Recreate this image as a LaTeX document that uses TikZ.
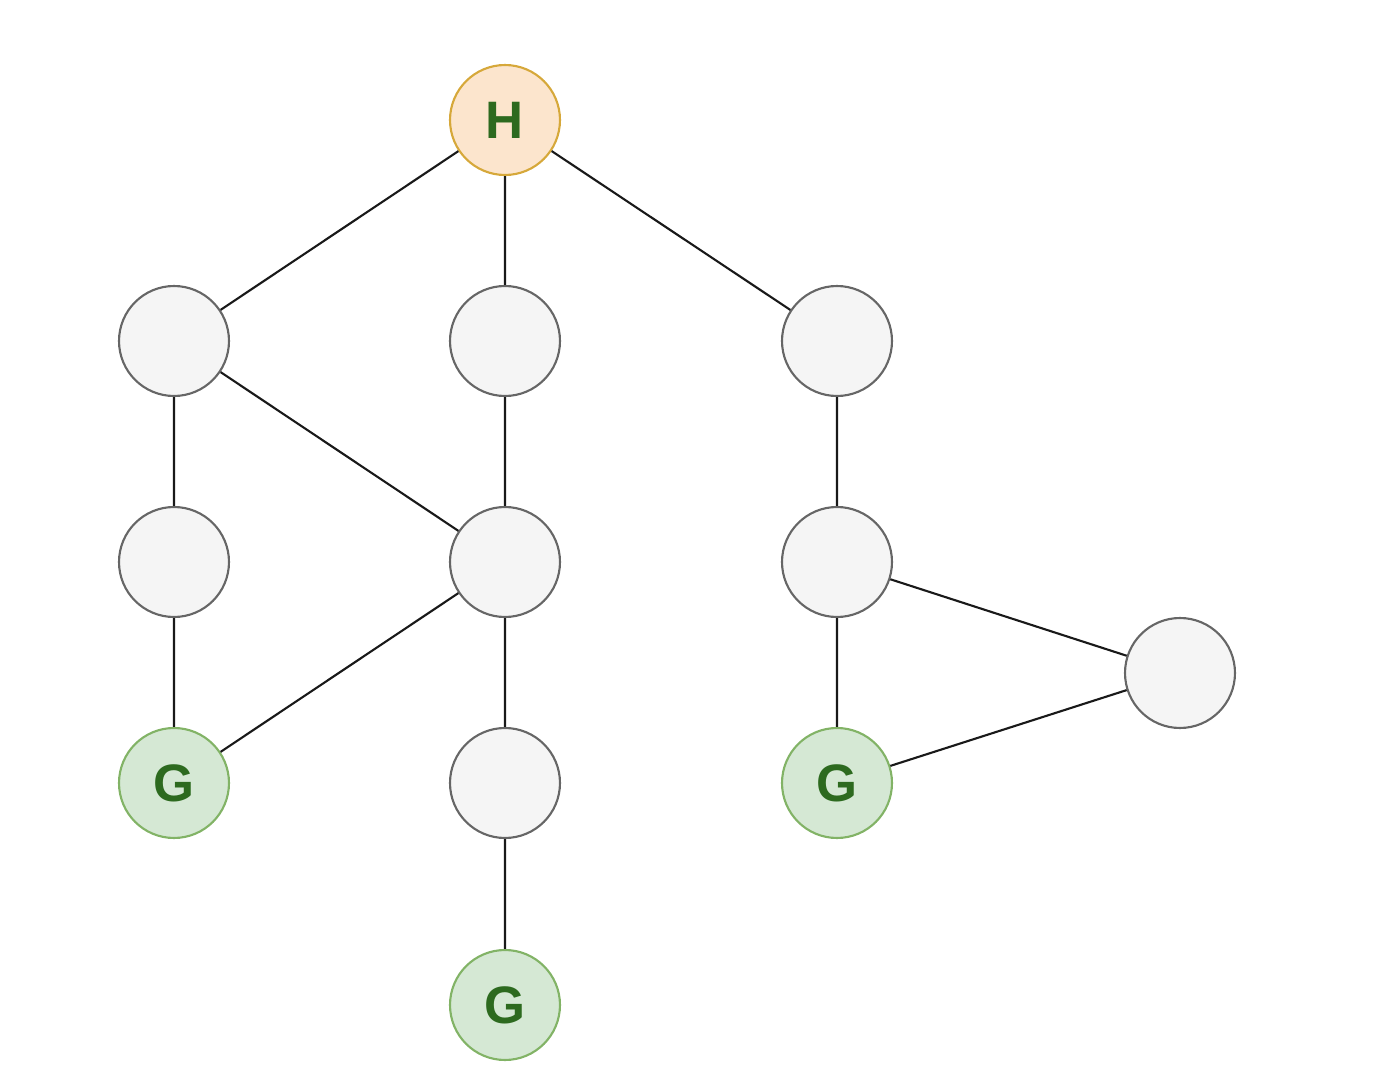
\documentclass[tikz,border=0pt]{standalone}
\usepackage{fontspec}
\setmainfont{Liberation Sans}
\definecolor{grayfill}{HTML}{F5F5F5}
\definecolor{grayline}{HTML}{666666}
\definecolor{greenfill}{HTML}{D5E8D4}
\definecolor{greenline}{HTML}{82B366}
\definecolor{orangefill}{HTML}{FCE5CD}
\definecolor{orangeline}{HTML}{D6A83A}
\definecolor{txtgreen}{HTML}{2D6A1F}
\begin{document}
\begin{tikzpicture}[x=0.02cm,y=-0.02cm,
  base/.style={circle,minimum size=2.2cm,inner sep=0pt,line width=1.2pt,font=\fontsize{30}{30}\selectfont\bfseries,text=txtgreen},
  gnode/.style={base,draw=grayline,fill=grayfill},
  goal/.style={base,draw=greenline,fill=greenfill},
  home/.style={base,draw=orangeline,fill=orangefill},
  edge/.style={line width=1.2pt,black!90}]
\useasboundingbox (0,0) rectangle (1394,1088);
\node[home] (H) at (505,120) {H};
\node[gnode] (A) at (174,341) {};
\node[gnode] (B) at (505,341) {};
\node[gnode] (C) at (837,341) {};
\node[gnode] (D) at (174,562) {};
\node[gnode] (E) at (505,562) {};
\node[gnode] (F) at (837,562) {};
\node[goal] (G1) at (174,783) {G};
\node[gnode] (I) at (505,783) {};
\node[goal] (G3) at (837,783) {G};
\node[gnode] (J) at (1180,673) {};
\node[goal] (G2) at (505,1005) {G};
\draw[edge] (H)--(A) (H)--(B) (H)--(C) (A)--(D) (A)--(E) (B)--(E)
  (D)--(G1) (E)--(G1) (E)--(I) (I)--(G2) (C)--(F) (F)--(J) (F)--(G3) (J)--(G3);
\end{tikzpicture}
\end{document}
